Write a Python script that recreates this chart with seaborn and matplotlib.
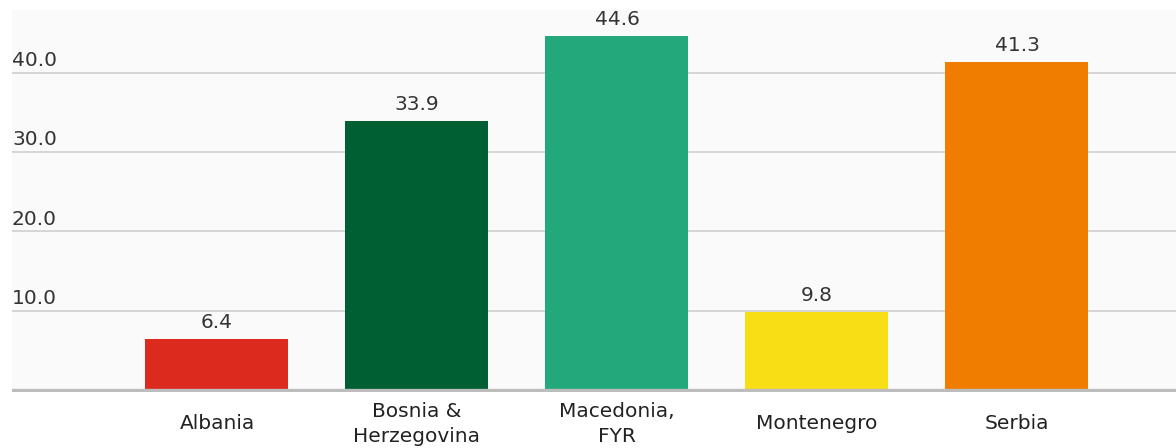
import pandas as pd
import matplotlib.pyplot as plt
import matplotlib.transforms as mtransforms
import seaborn as sns

countries = ["Albania", "Bosnia &\nHerzegovina", "Macedonia,\nFYR", "Montenegro", "Serbia"]
values = [6.4, 33.9, 44.6, 9.8, 41.3]
colors = ["#dc2a1e", "#005f33", "#22a87a", "#f7de15", "#f07d00"]
yticks = [10.0, 20.0, 30.0, 40.0]

df = pd.DataFrame({"country": countries, "value": values})

sns.set_style("white")
plt.rcParams['font.family'] = ['DejaVu Sans']

fig = plt.figure(figsize=(11.76, 4.48), dpi=100)
ax = fig.add_axes([0.0102, 0.125, 0.9898, 0.853])
ax.set_facecolor("#fafafa")

sns.barplot(data=df, x="country", y="value", hue="country", palette=colors,
            legend=False, width=0.715, saturation=1, linewidth=0, ax=ax)

ax.set_xlim(-1.025, 4.795)
ax.set_ylim(-0.25, 47.9)

# gridlines, labels sit just above them
blend = mtransforms.blended_transform_factory(ax.transAxes, ax.transData)
for v in yticks:
    ax.axhline(v, color="#cccccc", lw=1.1, zorder=0)
    ax.annotate(f"{v:.1f}", xy=(0.0, v), xycoords=blend, xytext=(0, 2), textcoords="offset points",
                ha="left", va="bottom", fontsize=14.5, color="#333333")
ax.axhline(0, color="#bdbdbd", lw=2.4, zorder=3)

for c in ax.containers:
    ax.bar_label(c, fmt="%.1f", padding=5, fontsize=14.5, color="#333333")

ax.set_yticks([])
ax.set_xlabel("")
ax.set_ylabel("")
ax.tick_params(axis="x", length=0, pad=23, labelsize=14.5, labelcolor="#222222")
for lab in ax.get_xticklabels():
    lab.set_va("center")
    lab.set_multialignment("center")
    lab.set_linespacing(1.45)
sns.despine(ax=ax, left=True, bottom=True)

fig.savefig("out.png", dpi=100, facecolor="white")
